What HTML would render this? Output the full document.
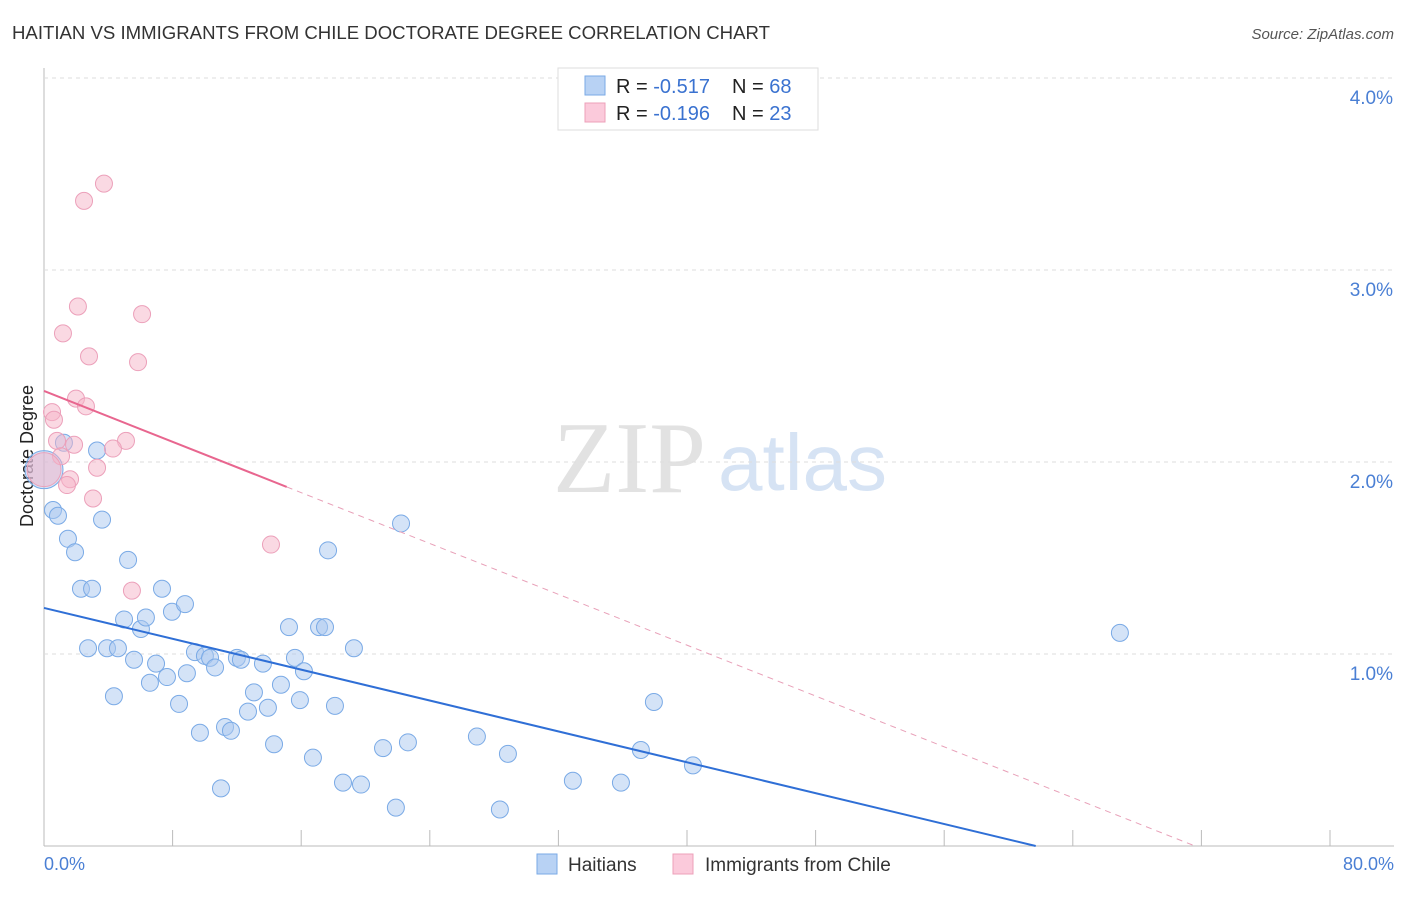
<!DOCTYPE html>
<html><head><meta charset="utf-8">
<style>
body{margin:0;background:#fff;font-family:"Liberation Sans",sans-serif;}
svg text{font-family:"Liberation Sans",sans-serif;}
</style></head>
<body>
<svg id="chart" width="1406" height="892" xmlns="http://www.w3.org/2000/svg">
<text x="12" y="39" font-size="18.6" fill="#333">HAITIAN VS IMMIGRANTS FROM CHILE DOCTORATE DEGREE CORRELATION CHART</text>
<text x="1394" y="39" font-size="15" fill="#555" text-anchor="end" font-style="italic">Source: ZipAtlas.com</text>
<text x="553" y="492" font-size="102" fill="#e2e2e2" font-family="Liberation Serif" style="font-family:'Liberation Serif',serif">ZIP</text>
<text x="718" y="490" font-size="80" fill="#d6e3f4">atlas</text>
<text transform="translate(33,456) rotate(-90)" font-size="18" fill="#222" text-anchor="middle">Doctorate Degree</text>
<g id="grid"></g><g id="marks"></g><g id="lines"></g>
<text x="44" y="870" font-size="18" fill="#4a7fd4">0.0%</text>
<text x="1394" y="870" font-size="18" fill="#4a7fd4" text-anchor="end">80.0%</text>
<g>
<rect x="558" y="68" width="260" height="62" fill="#fff" stroke="#ddd"/>
<rect x="585" y="76" width="20" height="19" fill="#b8d2f4" stroke="#7aaae6"/>
<rect x="585" y="103" width="20" height="19" fill="#fbcadb" stroke="#eca0ba"/>
<text x="616" y="93" font-size="20" fill="#222">R = <tspan fill="#3a72d0">-0.517</tspan></text>
<text x="732" y="93" font-size="20" fill="#222">N = <tspan fill="#3a72d0">68</tspan></text>
<text x="616" y="120" font-size="20" fill="#222">R = <tspan fill="#3a72d0">-0.196</tspan></text>
<text x="732" y="120" font-size="20" fill="#222">N = <tspan fill="#3a72d0">23</tspan></text>
</g>
<g>
<rect x="537" y="854" width="20" height="20" fill="#b8d2f4" stroke="#7aaae6"/>
<text x="568" y="871" font-size="19" fill="#333">Haitians</text>
<rect x="673" y="854" width="20" height="20" fill="#fbcadb" stroke="#eca0ba"/>
<text x="705" y="871" font-size="19" fill="#333">Immigrants from Chile</text>
</g>
</svg>
<script>
const yTicks=[1,2,3,4];
const yTickLabels=["1.0%","2.0%","3.0%","4.0%"];
const xTicks=[0,8,16,24,32,40,48,56,64,72,80];
const blueX=[0.56,0.87,1.49,1.93,2.30,2.99,3.61,3.30,1.24,5.23,2.74,3.92,4.60,4.35,4.98,6.03,6.34,5.60,6.59,6.97,7.34,7.65,7.96,8.77,8.40,8.89,9.39,9.70,10.01,10.33,10.64,11.01,11.26,11.63,12.00,12.25,12.69,13.06,13.62,13.93,14.31,14.74,15.24,15.61,15.92,16.17,16.73,17.11,17.48,17.67,18.10,18.60,19.28,19.72,21.09,21.89,22.21,22.64,26.93,28.36,28.86,32.90,35.89,37.13,37.94,40.37,66.93,0];
const blueY=[1.75,1.72,1.60,1.53,1.34,1.34,1.70,2.06,2.10,1.49,1.03,1.03,1.03,0.78,1.18,1.13,1.19,0.97,0.85,0.95,1.34,0.88,1.22,1.26,0.74,0.90,1.01,0.59,0.99,0.98,0.93,0.30,0.62,0.60,0.98,0.97,0.70,0.80,0.95,0.72,0.53,0.84,1.14,0.98,0.76,0.91,0.46,1.14,1.14,1.54,0.73,0.33,1.03,0.32,0.51,0.20,1.68,0.54,0.57,0.19,0.48,0.34,0.33,0.50,0.75,0.42,1.11,1.96];
const pinkX=[3.73,2.49,2.11,6.10,1.18,2.80,5.85,1.99,2.61,0.50,0.62,5.10,0.81,1.87,4.29,1.06,3.30,1.62,1.43,3.05,14.12,5.47,0];
const pinkY=[3.45,3.36,2.81,2.77,2.67,2.55,2.52,2.33,2.29,2.26,2.22,2.11,2.11,2.09,2.07,2.03,1.97,1.91,1.88,1.81,1.57,1.33,1.96];
const blueTrend=[1.24,-0.0201];
const pinkTrend=[2.37,-0.0331];
const sx=v=>44+v/80*1286, sy=v=>846-v*192;
const NS="http://www.w3.org/2000/svg";
function mk(tag,attrs,parent){const e=document.createElementNS(NS,tag);for(const k in attrs)e.setAttribute(k,attrs[k]);parent.appendChild(e);return e;}
const grid=document.getElementById('grid'),marks=document.getElementById('marks'),lines=document.getElementById('lines');
let ax=mk('line',{x1:44,y1:68,x2:44,y2:846,stroke:'#bbb'},grid);


let bx=mk('line',{x1:44,y1:846,x2:1394,y2:846,stroke:'#bbb'},grid);


xTicks.forEach(t=>{const l=mk('line',{x1:sx(t),y1:830,x2:sx(t),y2:846,stroke:'#bbb'},grid);

});
yTicks.forEach((t,i)=>{const l=mk('line',{x1:44,y1:sy(t),x2:1394,y2:sy(t),stroke:'#ddd','stroke-dasharray':'4,4'},grid);


const tx=mk('text',{x:1393,y:sy(t)+26,'font-size':19,fill:'#4a7fd4','text-anchor':'end'},grid);tx.textContent=yTickLabels[i];

});
blueX.forEach((x,i)=>{const big=(x===0);const c=mk('circle',{cx:sx(x),cy:sy(blueY[i]),r:big?19:8.5,fill:'rgba(170,200,240,0.5)',stroke:'#7aaae6','stroke-width':1},marks);

});
pinkX.forEach((x,i)=>{const big=(x===0);const c=mk('circle',{cx:sx(x),cy:sy(pinkY[i]),r:big?17:8.5,fill:'rgba(245,180,200,0.5)',stroke:'#eca0ba','stroke-width':1},marks);

});
const bEnd=-blueTrend[0]/blueTrend[1];
let bl=mk('line',{x1:sx(0),y1:sy(blueTrend[0]),x2:sx(bEnd),y2:sy(0),stroke:'#2f6fd6','stroke-width':2},lines);


const pSolid=15.1,pEnd=-pinkTrend[0]/pinkTrend[1];
let pl=mk('line',{x1:sx(0),y1:sy(pinkTrend[0]),x2:sx(pSolid),y2:sy(pinkTrend[0]+pinkTrend[1]*pSolid),stroke:'#e8668f','stroke-width':2},lines);


let pd=mk('line',{x1:sx(pSolid),y1:sy(pinkTrend[0]+pinkTrend[1]*pSolid),x2:sx(pEnd),y2:sy(0),stroke:'#e8a0b8','stroke-width':1,'stroke-dasharray':'6,5'},lines);


</script>
</body></html>
